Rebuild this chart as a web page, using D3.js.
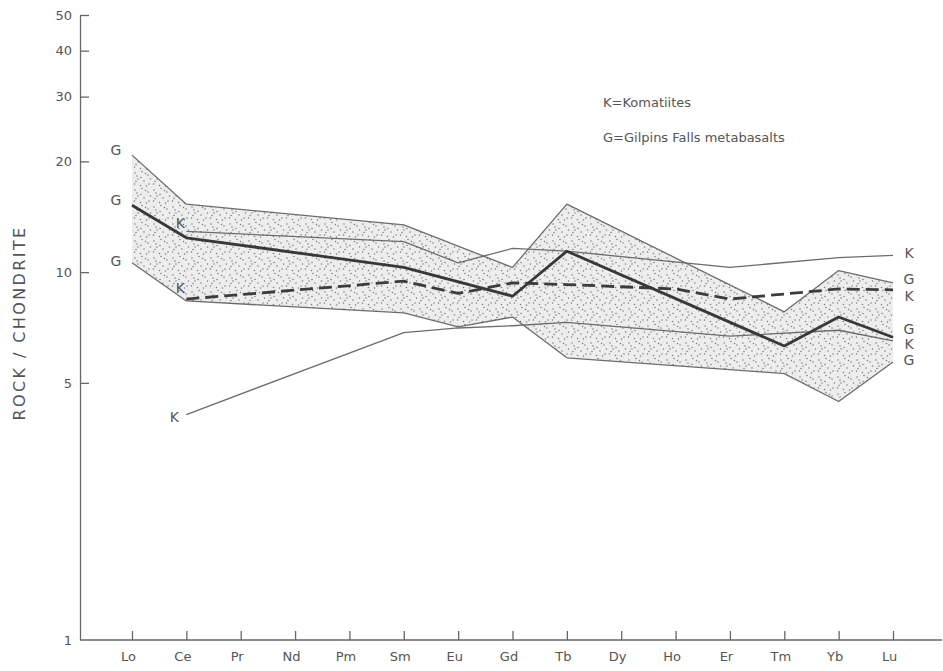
<!DOCTYPE html>
<html><head><meta charset="utf-8">
<script src="https://cdn.jsdelivr.net/npm/d3@7"></script>
<style>
body{margin:0;background:#fff}
text{font-family:"DejaVu Sans",sans-serif;fill:#555}
</style>
</head><body>
<svg id="c" width="943" height="671"></svg>
<script>
// ---- data ----
const elements = ["Lo","Ce","Pr","Nd","Pm","Sm","Eu","Gd","Tb","Dy","Ho","Er","Tm","Yb","Lu"];
const yTicks = [1,5,10,20,30,40,50];
// Gilpins Falls metabasalts (null = not analysed)
const gUpper = [20.8,15.3,null,null,null,13.45,null,10.3,15.3,null,null,null,7.8,10.1,9.35];
const gMean  = [15.2,12.4,null,null,null,10.3,null,8.6,11.4,null,null,null,6.3,7.55,6.65];
const gLower = [10.6,8.35,null,null,null,7.75,7.1,7.55,5.85,null,null,null,5.3,4.45,5.7];
// Komatiites
const kUpper  = [null,12.9,null,null,null,12.1,10.6,11.6,11.4,null,null,10.3,null,10.95,11.1];
const kDashed = [null,8.45,null,null,null,9.45,8.75,9.35,9.25,null,9.0,8.45,null,9.0,8.95];
const kLower  = [null,4.1,null,null,null,6.85,7.05,7.15,7.3,null,null,6.7,null,6.95,6.5];
const legendLines = ["K=Komatiites","G=Gilpins Falls metabasalts"];
const yTitle = "ROCK / CHONDRITE";

// ---- layout ----
const svg = d3.select("#c");
const axisX = 80, axisY = 640, axisRight = 942;
const x = d3.scalePoint().domain(elements).range([132, 893]);
const y = d3.scaleLog().domain([1, 50]).range([axisY, 15]);

const pts = arr => arr.map((v,i)=>({e:elements[i], v})).filter(d=>d.v!=null);
const line = d3.line().x(d=>x(d.e)).y(d=>y(d.v));

// stipple pattern
const defs = svg.append("defs");
const pat = defs.append("pattern").attr("id","stip").attr("patternUnits","userSpaceOnUse")
  .attr("width",19).attr("height",17);
pat.append("rect").attr("width",19).attr("height",17).attr("fill","#ededed");
const dotPos = [[2,3],[9,1.5],[15,5],[5,9],[11,11],[1.5,14],[7.5,15.5],[16,14],[12.5,3.5],[4,6],[17.5,9],[8,7.5],[13.5,16],[3,11.5]];
pat.selectAll("circle").data(dotPos).join("circle")
  .attr("cx",d=>d[0]).attr("cy",d=>d[1]).attr("r",0.75).attr("fill","#7a7a7a");

// band between upper and lower G envelopes
const bandPts = pts(gUpper).concat(pts(gLower).reverse());
svg.append("path").attr("d", line(bandPts) + "Z").attr("fill","url(#stip)").attr("stroke","none");

// lines
function draw(arr, width, color, dash){
  svg.append("path").datum(pts(arr)).attr("d", line)
    .attr("fill","none").attr("stroke",color).attr("stroke-width",width)
    .attr("stroke-linejoin","round")
    .attr("stroke-dasharray", dash || null);
}
draw(gUpper, 1.3, "#6c6c6c");
draw(gLower, 1.3, "#6c6c6c");
draw(kUpper, 1.3, "#6c6c6c");
draw(kLower, 1.3, "#6c6c6c");
draw(kDashed, 2.8, "#3c3c3c", "13,6");
draw(gMean, 2.8, "#383838");

// axes
const yAxis = d3.axisLeft(y).tickValues(yTicks).tickFormat(d3.format("d"))
  .tickSize(-9).tickSizeOuter(0).tickPadding(8);
const gy = svg.append("g").attr("transform",`translate(${axisX},0)`).call(yAxis);
gy.select(".domain").attr("stroke","#666").attr("stroke-width",1.3);
gy.selectAll(".tick line").attr("stroke","#666").attr("stroke-width",1.3);
gy.selectAll(".tick text").style("font-size","13px").attr("fill","#555");
gy.selectAll(".tick").filter(d=>d===1).select("line").remove();

const xAxis = d3.axisBottom(x).tickSize(-9).tickSizeOuter(0).tickPadding(12);
const gx = svg.append("g").attr("transform",`translate(0,${axisY})`).call(xAxis);
gx.select(".domain").remove();
gx.selectAll(".tick line").attr("stroke","#666").attr("stroke-width",1.3);
gx.selectAll(".tick text").style("font-size","13px").attr("fill","#555").attr("dx",-4);
svg.append("line").attr("x1",axisX).attr("x2",axisRight).attr("y1",axisY).attr("y2",axisY)
  .attr("stroke","#666").attr("stroke-width",1.3);

// y title
svg.append("text").attr("transform",`translate(25,323) rotate(-90)`)
  .attr("text-anchor","middle").style("font-size","16px").style("letter-spacing","2.4px").text(yTitle);

// series letters
const labStyle = s => s.style("font-size","14px").attr("text-anchor","middle").attr("dominant-baseline","central");
function startLabel(arr, letter, dx, dy){
  const p = pts(arr)[0];
  svg.append("text").attr("x", x(p.e)+dx).attr("y", y(p.v)+dy).text(letter).call(labStyle);
}
function endLabel(arr, letter, dy){
  const p = pts(arr).slice(-1)[0];
  svg.append("text").attr("x", x(p.e)+16).attr("y", y(p.v)+dy).text(letter).call(labStyle);
}
startLabel(gUpper,"G",-16,-5);
startLabel(gMean,"G",-16,-5);
startLabel(gLower,"G",-16,-2);
startLabel(kUpper,"K",-6,-8);
startLabel(kDashed,"K",-6,-11);
startLabel(kLower,"K",-12,2);
endLabel(kUpper,"K",-2);
endLabel(gUpper,"G",-4);
endLabel(kDashed,"K",6);
endLabel(gMean,"G",-8);
endLabel(kLower,"K",3);
endLabel(gLower,"G",-2);

// legend
svg.selectAll("text.leg").data(legendLines).join("text").attr("class","leg")
  .attr("x",603).attr("y",(d,i)=>107+i*35).style("font-size","13px").text(d=>d);
</script>
</body></html>
